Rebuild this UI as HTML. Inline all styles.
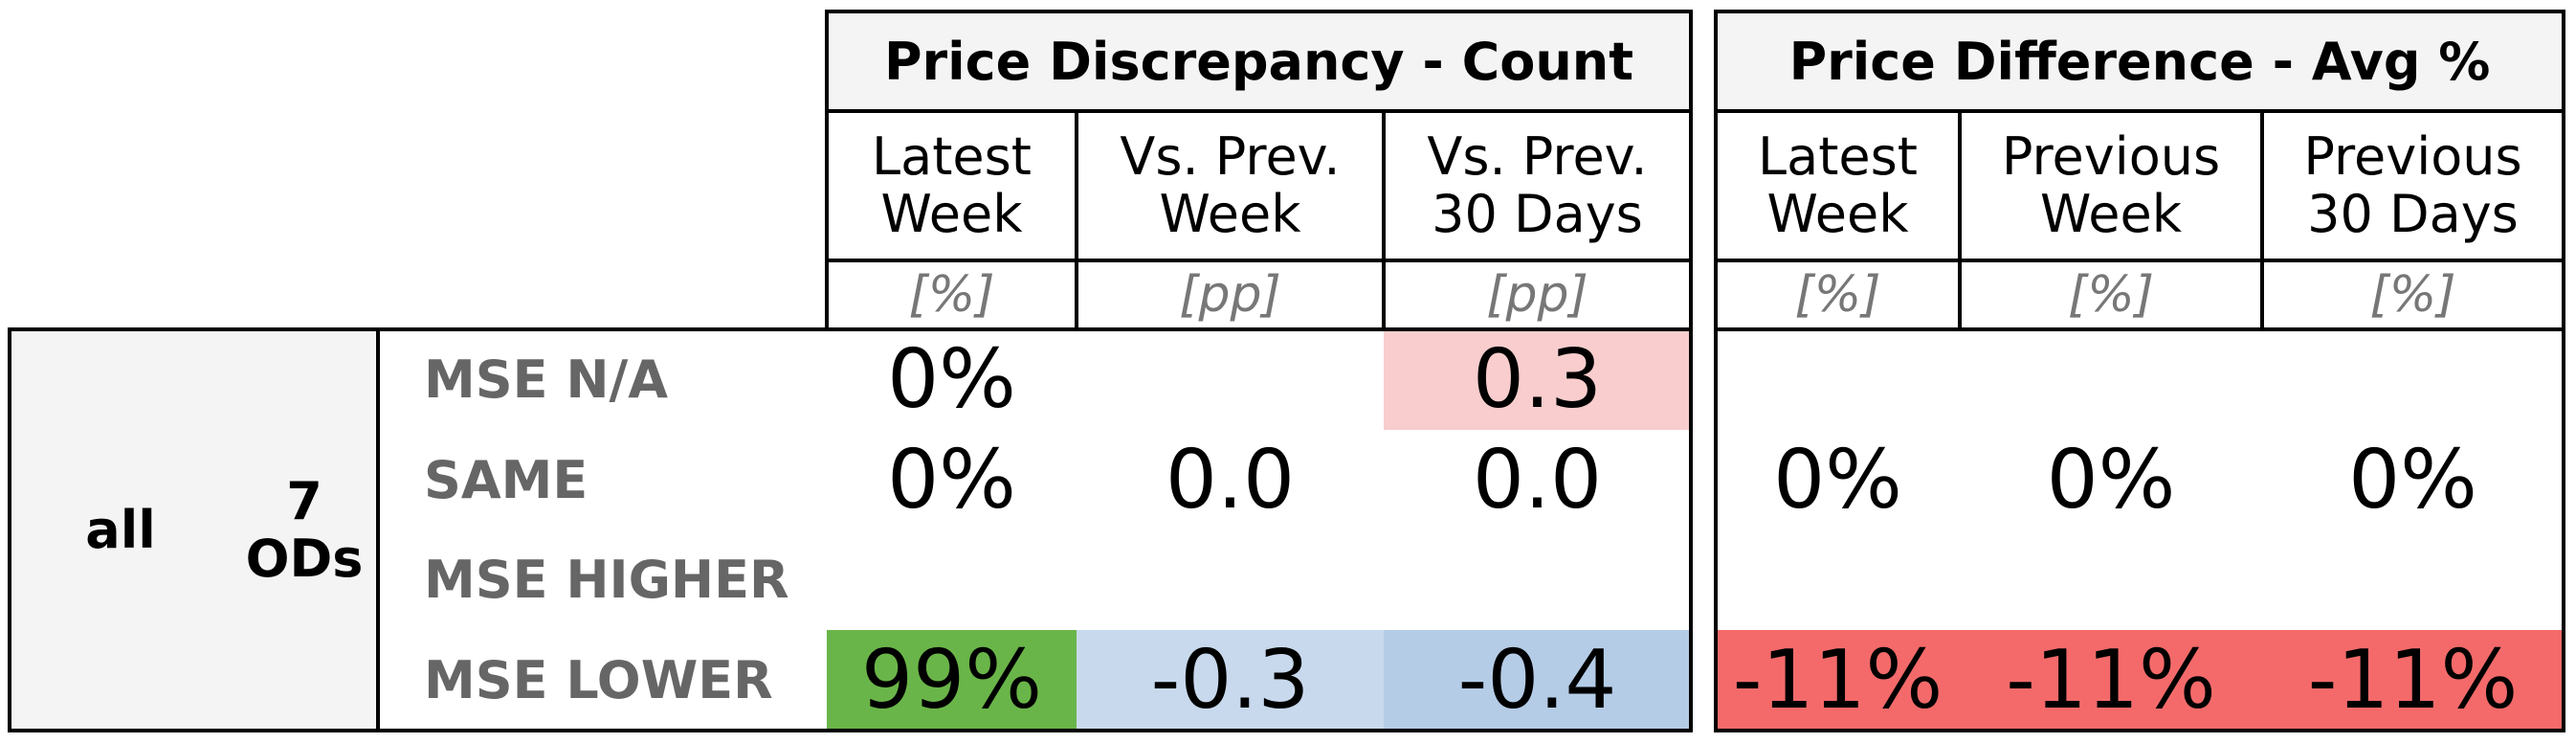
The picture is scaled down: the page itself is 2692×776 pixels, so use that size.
<!DOCTYPE html>
<html><head><meta charset="utf-8">
<style>
html,body{margin:0;padding:0;background:#fff;}
#root{position:relative;width:2692px;height:776px;overflow:hidden;font-family:"DejaVu Sans","Liberation Sans",sans-serif;}
.b{position:absolute;box-sizing:border-box;}
.t{position:absolute;display:flex;align-items:center;justify-content:center;text-align:center;box-sizing:border-box;white-space:nowrap;}
.ln{position:absolute;background:#000;}
</style></head><body>
<div id="root"></div>
<script>
const colLabels=["Latest<br>Week","Vs. Prev.<br>Week","Vs. Prev.<br>30 Days","Latest<br>Week","Previous<br>Week","Previous<br>30 Days"];
const units=["[%]","[pp]","[pp]","[%]","[%]","[%]"];
const rowLabels=["MSE N/A","SAME","MSE HIGHER","MSE LOWER"];
const countVals=[["0%","","0.3"],["0%","0.0","0.0"],["","",""],["99%","-0.3","-0.4"]];
const diffVals=[["","",""],["0%","0%","0%"],["","",""],["-11%","-11%","-11%"]];
const countColors=[["","","#f9cdcd"],["","",""],["","",""],["#6ab549","#c8d9ed","#b5cce6"]];
const diffColors=[["","",""],["","",""],["","",""],["#f46a6a","#f46a6a","#f46a6a"]];

const root=document.getElementById('root');
const colX=[[864,1125],[1125,1446],[1446,1767],[1793,2048],[2048,2364],[2364,2679]];
const yTop=12,yH=116,yS=272,yU=344,yB=763;
const rh=(yB-yU)/4;
function box(x,y,w,h,bg){const d=document.createElement('div');d.className='b';d.style.cssText=`left:${x}px;top:${y}px;width:${w}px;height:${h}px;background:${bg}`;root.appendChild(d);return d;}
function txt(x,y,w,h,html,css){const d=document.createElement('div');d.className='t';d.style.cssText=`left:${x}px;top:${y}px;width:${w}px;height:${h}px;${css}`;d.innerHTML=html;root.appendChild(d);return d;}
function line(x,y,w,h){const d=document.createElement('div');d.className='ln';d.style.cssText=`left:${x-2}px;top:${y-2}px;width:${w+4}px;height:${h+4}px`;root.appendChild(d);return d;}

box(864,yTop,1767-864,yH-yTop,'#f4f4f4');
box(1793,yTop,2679-1793,yH-yTop,'#f4f4f4');
box(10,yU,395-10,yB-yU,'#f4f4f4');
for(let r=0;r<4;r++){for(let c=0;c<3;c++){
  if(countColors[r][c]){const d=box(colX[c][0],yU+r*rh,colX[c][1]-colX[c][0],rh,countColors[r][c]);}
  if(diffColors[r][c]){const d=box(colX[c+3][0],yU+r*rh,colX[c+3][1]-colX[c+3][0],rh,diffColors[r][c]);}
}}
let e=txt(864,yTop,903,yH-yTop,'Price Discrepancy - Count','font-weight:bold;font-size:54px;color:#000;');

e=txt(1793,yTop,886,yH-yTop,'Price Difference - Avg %','font-weight:bold;font-size:54px;color:#000;');

for(let i=0;i<6;i++){
  const [a,b]=colX[i];
  e=txt(a,yH,b-a,yS-yH,colLabels[i],'font-size:54px;line-height:60px;color:#000;');
  
  e=txt(a,yS,b-a,yU-yS,units[i],'font-size:52px;font-style:italic;color:#777;');
  
}
for(let r=0;r<4;r++){
  e=txt(443,yU+r*rh,420,rh,rowLabels[r],'justify-content:flex-start;font-weight:bold;font-size:54px;color:#666;');
  
  for(let c=0;c<3;c++){
    if(countVals[r][c]){e=txt(colX[c][0],yU+r*rh,colX[c][1]-colX[c][0],rh,countVals[r][c],'font-size:85px;color:#000;');
      }
    if(diffVals[r][c]){e=txt(colX[c+3][0],yU+r*rh,colX[c+3][1]-colX[c+3][0],rh,diffVals[r][c],'font-size:85px;color:#000;');
      }
  }
}
e=txt(60,yU,132,yB-yU,'all','font-weight:bold;font-size:54px;color:#000;');

e=txt(238,yU,160,yB-yU,'7<br>ODs','font-weight:bold;font-size:54px;line-height:60px;color:#000;');


line(864,yTop,0,yU-yTop);line(1767,yTop,0,yB-yTop);line(864,yTop,903,0);
line(864,yH,903,0);line(864,yS,903,0);
line(1125,yH,0,yU-yH);line(1446,yH,0,yU-yH);
line(1793,yTop,0,yB-yTop);line(2679,yTop,0,yB-yTop);line(1793,yTop,886,0);
line(1793,yH,886,0);line(1793,yS,886,0);line(1793,yU,886,0);line(1793,yB,886,0);
line(2048,yH,0,yU-yH);line(2364,yH,0,yU-yH);
line(10,yU,1757,0);line(10,yB,1757,0);line(10,yU,0,yB-yU);line(395,yU,0,yB-yU);
</script>
</body></html>
